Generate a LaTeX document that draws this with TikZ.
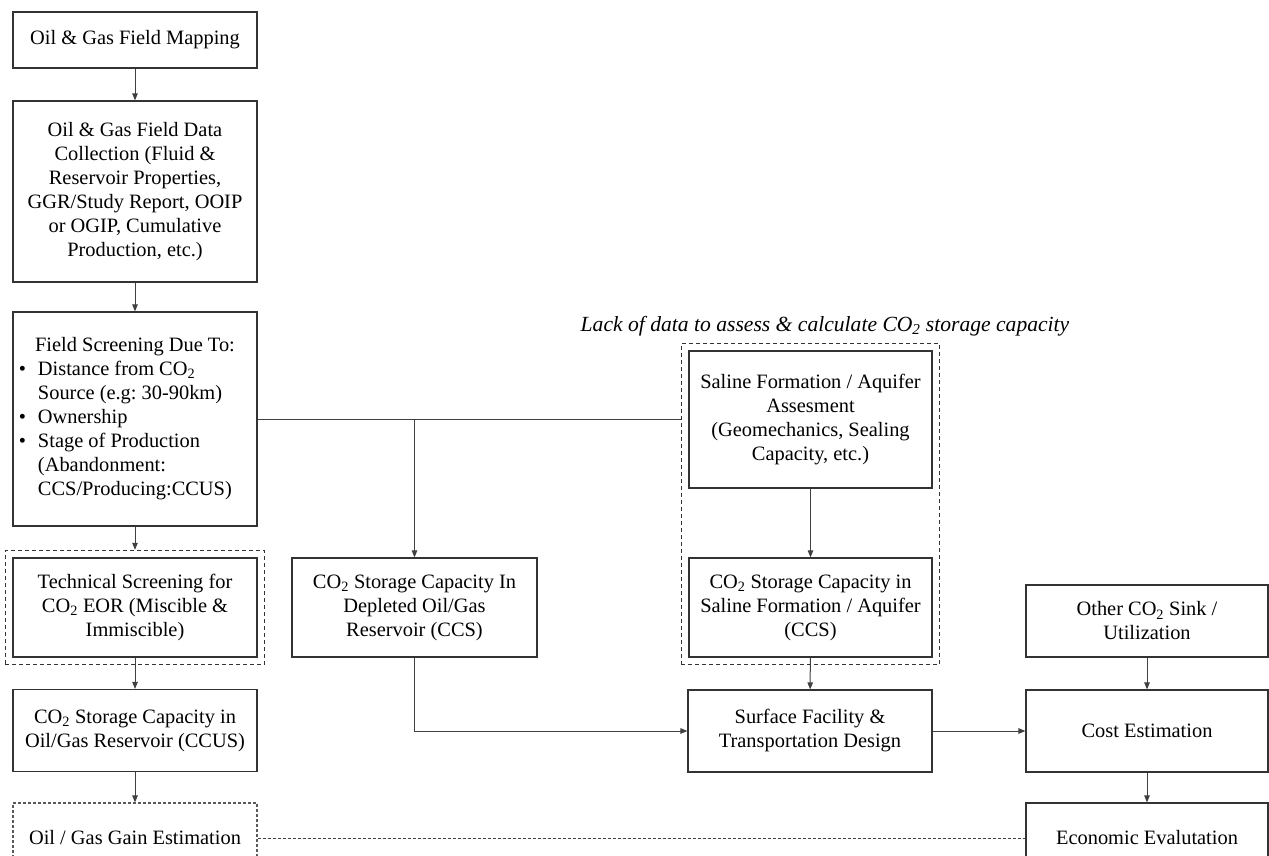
\documentclass[tikz,border=0pt]{standalone}
\usepackage{fontspec}
\setmainfont{Liberation Serif}
\usetikzlibrary{arrows.meta,positioning,fit}
\newcommand{\cotwo}{CO\textsubscript{2}}

\begin{document}
\begin{tikzpicture}[x=1pt,y=-1pt,
  box/.style={draw=black!80,line width=1.2pt,minimum width=244pt,inner sep=0pt,
    align=center,font=\fontsize{20.4}{24}\selectfont\frenchspacing},
  dashbox/.style={box,draw=black!65,dash pattern=on 3pt off 2pt},
  grpbox/.style={draw=black!80,line width=1.2pt,dash pattern=on 4pt off 3pt,inner sep=7pt},
  link/.style={draw=black!75,line width=1pt},
  arr/.style={link,-{Triangle[length=7pt,width=5.5pt]}}]
  \useasboundingbox (0,0) rectangle (1269,856);
  % Left column: field screening chain
  \node[box,minimum height=56pt] (map) at (135,40) {Oil \& Gas Field Mapping};
  \node[box,minimum height=181pt] (data) at (135,191.5)
    {Oil \& Gas Field Data\\ Collection (Fluid \&\\ Reservoir Properties,\\
     GGR/Study Report, OOIP\\ or OGIP, Cumulative\\ Production, etc.)};
  \node[box,minimum height=214pt,align=flush left,text width=232pt,inner xsep=6pt] (screen) at (135,419)
    {\makebox[232pt][c]{Field Screening Due To:}\\
     \makebox[19pt][l]{\textbullet}Distance from \cotwo\\
     \hspace*{19pt}Source (e.g: 30-90km)\\
     \makebox[19pt][l]{\textbullet}Ownership\\
     \makebox[19pt][l]{\textbullet}Stage of Production\\
     \hspace*{19pt}(Abandonment:\\
     \hspace*{19pt}CCS/Producing:CCUS)};
  \node[box,minimum height=99pt] (tech) at (135,607.5)
    {Technical Screening for\\ \cotwo{} EOR (Miscible \&\\ Immiscible)};
  \node[grpbox,fit=(tech)] (techgrp) {};
  \node[box,minimum height=82pt] (ccus) at (135,730.5)
    {\cotwo{} Storage Capacity in\\ Oil/Gas Reservoir (CCUS)};
  \node[dashbox,minimum height=70pt] (gain) at (135,838) {Oil / Gas Gain Estimation};
  % Middle: depleted reservoir and saline aquifer
  \node[box,minimum height=99pt,minimum width=245pt] (depl) at (414.5,607.5)
    {\cotwo{} Storage Capacity In\\ Depleted Oil/Gas\\ Reservoir (CCS)};
  \node[box,minimum height=137pt,minimum width=243pt] (saline) at (810.5,419.5)
    {Saline Formation / Aquifer\\ Assesment\\ (Geomechanics, Sealing\\ Capacity, etc.)};
  \node[box,minimum height=99pt,minimum width=243pt] (salcap) at (810.5,607.5)
    {\cotwo{} Storage Capacity in\\ Saline Formation / Aquifer\\ (CCS)};
  \node[grpbox,fit=(saline)(salcap)] (salgrp) {};
  \node[font=\fontsize{21.6}{24}\selectfont\itshape] (lack) at (825,326)
    {Lack of data to assess \& calculate \cotwo{} storage capacity};
  \node[box,minimum height=82pt] (surf) at (810,731)
    {Surface Facility \&\\ Transportation Design};
  % Right column: cost and economics
  \node[box,minimum height=72pt,minimum width=242pt] (sink) at (1147,621)
    {Other \cotwo{} Sink /\\ Utilization};
  \node[box,minimum height=82pt,minimum width=242pt] (cost) at (1147,731) {Cost Estimation};
  \node[box,minimum height=70pt,minimum width=242pt] (econ) at (1147,838) {Economic Evalutation};
  % Connectors
  \draw[arr] (map) -- (data);
  \draw[arr] (data) -- (screen);
  \draw[arr] (screen) -- (techgrp);
  \draw[arr] (tech) -- (ccus);
  \draw[arr] (ccus) -- (gain);
  \draw[link] (screen.east) -- (screen.east -| salgrp.west);
  \draw[arr] (screen.east -| depl.north) -- (depl.north);
  \draw[arr] (saline) -- (salcap);
  \draw[arr] (salcap) -- (surf);
  \draw[arr] (depl.south) |- (surf.west);
  \draw[arr] (surf) -- (cost);
  \draw[arr] (sink) -- (cost);
  \draw[arr] (cost) -- (econ);
  \draw[link,dash pattern=on 3pt off 2pt] (gain) -- (econ);
\end{tikzpicture}
\end{document}
